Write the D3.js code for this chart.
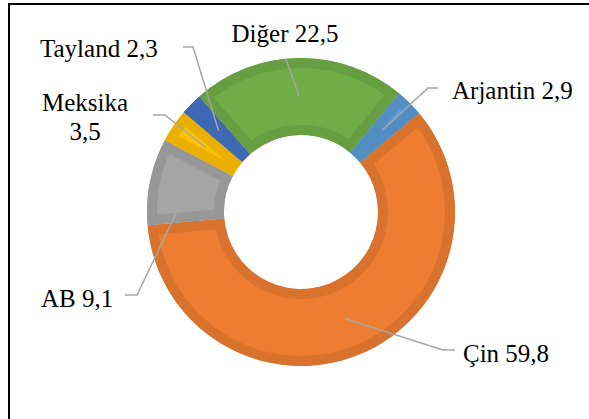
<!DOCTYPE html>
<html>
<head>
<meta charset="utf-8">
<script src="https://cdn.jsdelivr.net/npm/d3@7"></script>
<style>
  html, body { margin: 0; padding: 0; background: #fff; }
  svg { display: block; }
  .lbl { font-family: "Liberation Serif", "Times New Roman", "DejaVu Serif", serif; font-size: 25px; }
</style>
</head>
<body>
<svg id="chart"></svg>
<script>
// data (clockwise, starting at Çin)
const categories = ["Çin", "AB", "Meksika", "Tayland", "Diğer", "Arjantin"];
const values = [59.8, 9.1, 3.5, 2.3, 22.5, 2.9];
const labelText = ["Çin 59,8", "AB 9,1", "Meksika|3,5", "Tayland 2,3", "Diğer 22,5", "Arjantin 2,9"];
const colors = ["#ED7D31", "#A5A5A5", "#FFC000", "#4472C4", "#70AD47", "#5B9BD5"];

// manual label placement (like in the original), text anchor + elbow of the leader
const labelLayout = [
  { x: 463, y: 362, anchor: "start", elbow: [443, 350], end: [455, 350] },
  { x: 41, y: 307, anchor: "start", elbow: [137, 295], end: [125, 295] },
  { x: 85, y: 111, anchor: "middle", elbow: [165, 115], end: [153, 115] },
  { x: 40, y: 57, anchor: "start", elbow: [193, 47], end: [183, 47] },
  { x: 285, y: 42, anchor: "middle", elbow: null, end: [286, 59] },
  { x: 452, y: 99, anchor: "start", elbow: [428, 88], end: [438, 88] }
];

const W = 589, H = 419;
const cx = 301, cy = 212, rOuter = 154, rInner = 77, inset = 10;

const svg = d3.select("#chart").attr("width", W).attr("height", H);

// outer frame (only top and left edges show in the picture)
svg.append("rect")
  .attr("x", 9).attr("y", 4)
  .attr("width", W + 20).attr("height", H + 20)
  .attr("fill", "none").attr("stroke", "#000").attr("stroke-width", 2);

const data = categories.map((c, i) => ({ name: c, value: values[i], color: colors[i], label: labelText[i], pos: labelLayout[i] }));

const pie = d3.pie()
  .sort(null)
  .value(d => d.value)
  .startAngle(50 * Math.PI / 180)
  .endAngle(50 * Math.PI / 180 + 2 * Math.PI);

const arc = d3.arc().innerRadius(rInner).outerRadius(rOuter);

const arcs = pie(data);
const g = svg.append("g").attr("transform", `translate(${cx},${cy})`);

const defs = svg.append("defs");
arcs.forEach((d, i) => {
  defs.append("clipPath").attr("id", "clip" + i)
    .append("path").attr("d", arc(d));
});

// slice fill + darker inner border clipped to the slice
g.selectAll("path.slice")
  .data(arcs)
  .join("path")
  .attr("class", "slice")
  .attr("d", arc)
  .attr("clip-path", (d, i) => `url(#clip${i})`)
  .attr("fill", d => d.data.color)
  .attr("stroke", d => d3.color(d.data.color).darker(0.25))
  .attr("stroke-width", inset * 2)
  .attr("stroke-linejoin", "miter");

// leader lines
const leader = svg.append("g");
arcs.forEach(d => {
  const c = arc.centroid(d);
  const p = d.data.pos;
  const pts = [[cx + c[0], cy + c[1]]];
  if (p.elbow) pts.push(p.elbow);
  pts.push(p.end);
  leader.append("path")
    .attr("d", d3.line()(pts))
    .attr("fill", "none")
    .attr("stroke", "#A6A6A6")
    .attr("stroke-width", 1.5);
});

// labels
const labels = svg.append("g").attr("fill", "#000");

arcs.forEach(d => {
  const p = d.data.pos;
  const lines = d.data.label.split("|");
  const t = labels.append("text")
    .attr("class", "lbl")
    .attr("x", p.x).attr("y", p.y)
    .attr("text-anchor", p.anchor);
  lines.forEach((ln, k) => {
    t.append("tspan").attr("x", p.x).attr("dy", k === 0 ? 0 : 29).text(ln);
  });
});
</script>
</body>
</html>
